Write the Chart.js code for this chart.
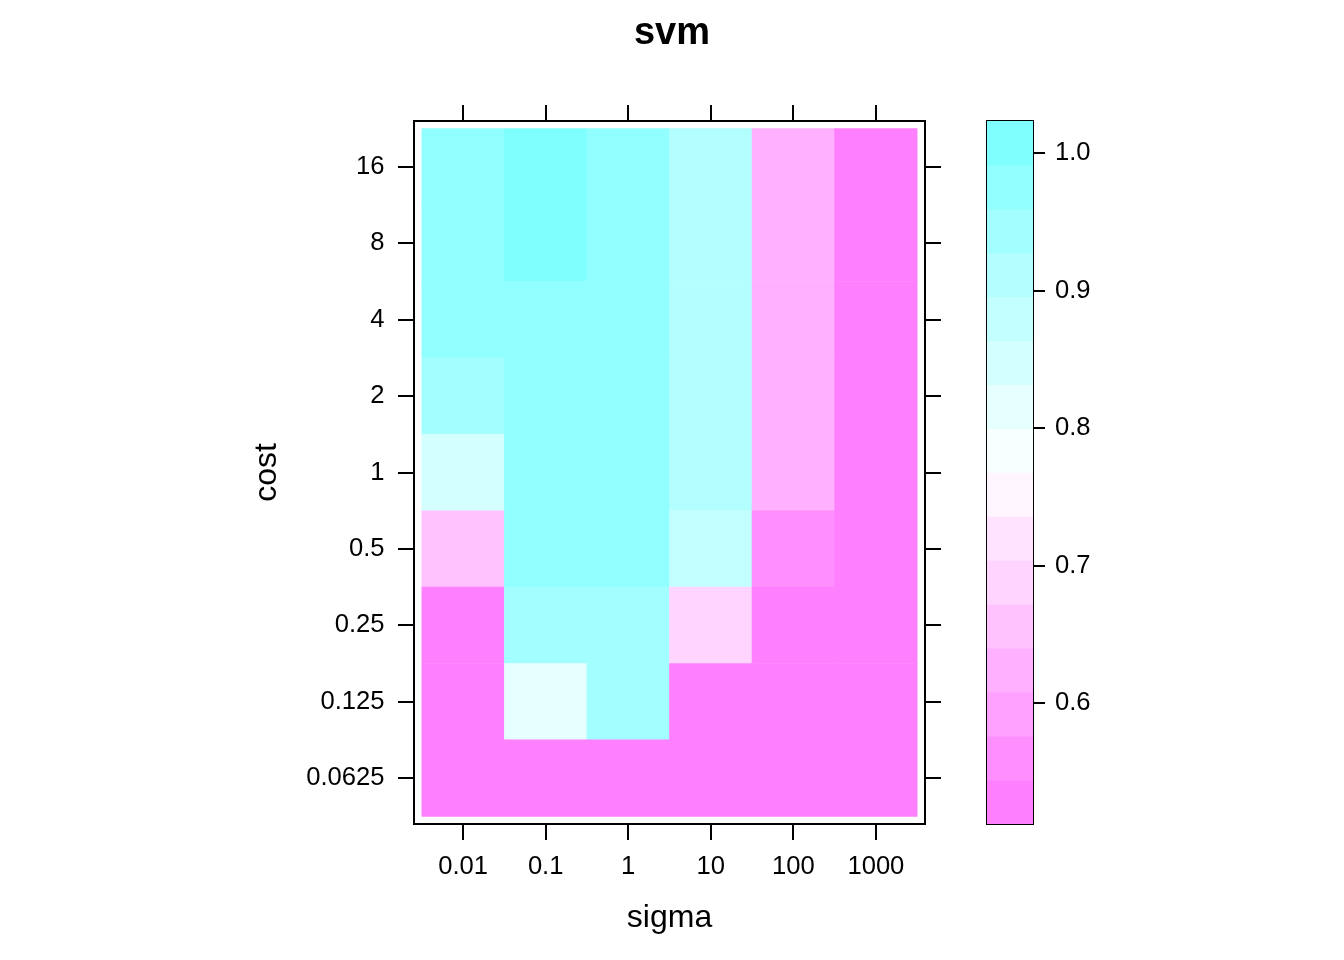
<!DOCTYPE html>
<html>
<head>
<meta charset="utf-8">
<script src="https://cdn.jsdelivr.net/npm/chart.js@4.4.1/dist/chart.umd.min.js"></script>
<style>
html,body{margin:0;padding:0;background:#ffffff;}
#wrap{position:relative;width:1344px;height:960px;overflow:hidden;}
#heat{position:absolute;left:0;top:0;}
#key{position:absolute;left:900px;top:0;}
</style>
</head>
<body>
<div id="wrap">
<canvas id="heat" width="1344" height="960"></canvas>
<canvas id="key" width="444" height="960"></canvas>
</div>
<script>
// ---- data ----
const sigmaLabels = ["0.01", "0.1", "1", "10", "100", "1000"];
const costLabels  = ["0.0625", "0.125", "0.25", "0.5", "1", "2", "4", "8", "16"];

// accuracy per cost value, one entry per sigma (same order as sigmaLabels)
const accCost0_0625 = [0.5434, 0.5434, 0.5434, 0.5434, 0.5434, 0.5434];
const accCost0_125  = [0.5434, 0.810, 0.940, 0.5434, 0.5434, 0.5434];
const accCost0_25   = [0.5434, 0.945, 0.945, 0.690, 0.5434, 0.5434];
const accCost0_5    = [0.655, 0.970, 0.975, 0.880, 0.560, 0.5434];
const accCost1      = [0.850, 0.975, 0.980, 0.910, 0.625, 0.5434];
const accCost2      = [0.945, 0.975, 0.980, 0.910, 0.625, 0.5434];
const accCost4      = [0.970, 0.975, 0.980, 0.910, 0.625, 0.5434];
const accCost8      = [0.975, 0.992, 0.980, 0.910, 0.625, 0.5434];
const accCost16     = [0.975, 0.992, 0.980, 0.910, 0.625, 0.5434];

const keyTickValues = [0.6, 0.7, 0.8, 0.9, 1.0];

// 16 level colours, low -> high
const levelColors = ["#FF80FF", "#FF8FFF", "#FFA1FF", "#FFB0FF", "#FFC2FF", "#FFD4FF", "#FFE3FF", "#FFF5FF",
                     "#F7FFFF", "#E6FFFF", "#D4FFFF", "#C4FFFF", "#B3FFFF", "#A3FFFF", "#91FFFF", "#80FFFF"];

// ---- derived ----
const rows = [accCost0_0625, accCost0_125, accCost0_25, accCost0_5, accCost1, accCost2, accCost4, accCost8, accCost16];
const allVals = rows.flat();
const zMin = Math.min(...allVals), zMax = Math.max(...allVals);
const ext = 0.07 * (zMax - zMin);
const lo = zMin - ext, hi = zMax + ext;
const nLev = levelColors.length;
const breaks = Array.from({length: nLev + 1}, (_, k) => lo + (hi - lo) * k / nLev);
function colorFor(v) {
  let k = Math.floor((v - lo) / (hi - lo) * nLev);
  k = Math.max(0, Math.min(nLev - 1, k));
  return levelColors[k];
}

Chart.defaults.font.family = "'Liberation Sans', Arial, Helvetica, sans-serif";
Chart.defaults.color = '#000000';

const FS = 25.6;
const tickGrid = (len, show) => ({
  display: show, offset: false, drawOnChartArea: false, drawTicks: true, tickLength: len,
  lineWidth: 2, tickWidth: 2, color: '#000000', tickColor: '#000000'
});
const border = {display: true, color: '#000000', width: 2};
const fixW = w => s => { s.width = w; };
const fixH = h => s => { s.height = h; };
const indexTicks = n => s => { s.ticks = Array.from({length: n}, (_, i) => ({value: i})); };

// ---- heat map ----
const heatDatasets = rows.map((row, r) => ({
  label: 'cost ' + costLabels[r],
  data: row.map((v, c) => ({x: c, y: [r - 0.5, r + 0.5]})),
  backgroundColor: row.map(colorFor),
  borderWidth: 0,
  grouped: false,
  barPercentage: 1,
  categoryPercentage: 1
}));

const titleTop = 10.5, titleSize = 38;
const titleH = titleTop + titleSize * 1.2;

new Chart(document.getElementById('heat'), {
  type: 'bar',
  data: {datasets: heatDatasets},
  options: {
    responsive: false, animation: false, devicePixelRatio: 1,
    layout: {padding: 0},
    plugins: {
      legend: {display: false}, tooltip: {enabled: false},
      title: {display: true, text: 'svm', color: '#000000',
              font: {size: titleSize, weight: 'bold'}, padding: {top: titleTop, bottom: 0}}
    },
    scales: {
      x: {
        type: 'linear', position: 'bottom', min: -0.595, max: 5.595, offset: false,
        afterBuildTicks: indexTicks(sigmaLabels.length), afterFit: fixH(960 - 824),
        grid: tickGrid(16, true), border: border,
        ticks: {font: {size: FS}, padding: 11.5, maxRotation: 0, autoSkip: false,
                callback: v => sigmaLabels[v]},
        title: {display: true, text: 'sigma', font: {size: 32}, padding: {top: 0, bottom: 22.5}}
      },
      x2: {
        type: 'linear', axis: 'x', position: 'top', min: -0.595, max: 5.595, offset: false,
        afterBuildTicks: indexTicks(sigmaLabels.length), afterFit: fixH(121 - titleH),
        grid: tickGrid(16, true), border: border,
        ticks: {display: false}
      },
      y: {
        type: 'linear', position: 'left', min: -0.6, max: 8.6,
        afterBuildTicks: indexTicks(costLabels.length), afterFit: fixW(414),
        grid: tickGrid(16, true), border: border,
        ticks: {font: {size: FS}, padding: 13.5, autoSkip: false,
                callback: v => costLabels[v]},
        title: {display: true, text: 'cost', font: {size: 32}, padding: {top: 248, bottom: 0}}
      },
      y2: {
        type: 'linear', axis: 'y', position: 'right', min: -0.6, max: 8.6,
        afterBuildTicks: indexTicks(costLabels.length), afterFit: fixW(1344 - 925),
        grid: tickGrid(16, true), border: border,
        ticks: {display: false}
      }
    }
  }
});

// ---- colour key ----
new Chart(document.getElementById('key'), {
  type: 'bar',
  data: {
    datasets: [{
      label: 'key',
      data: levelColors.map((c, k) => ({x: 0, y: [breaks[k], breaks[k + 1]]})),
      backgroundColor: levelColors,
      borderWidth: 0,
      grouped: false,
      barPercentage: 1,
      categoryPercentage: 1
    }]
  },
  options: {
    responsive: false, animation: false, devicePixelRatio: 1,
    layout: {padding: 0},
    plugins: {legend: {display: false}, tooltip: {enabled: false}, title: {display: false}},
    scales: {
      x: {
        type: 'linear', position: 'bottom', min: -0.5, max: 0.5, offset: false,
        afterBuildTicks: indexTicks(1), afterFit: fixH(960 - 824),
        grid: {display: false, offset: false, lineWidth: 2}, border: border, ticks: {display: false}
      },
      x2: {
        type: 'linear', axis: 'x', position: 'top', min: -0.5, max: 0.5, offset: false,
        afterBuildTicks: indexTicks(1), afterFit: fixH(121),
        grid: {display: false, offset: false, lineWidth: 2}, border: border, ticks: {display: false}
      },
      y2: {
        type: 'linear', axis: 'y', position: 'left', min: lo, max: hi,
        afterFit: fixW(987 - 900),
        grid: {display: false, lineWidth: 2}, border: border, ticks: {display: false}
      },
      y: {
        type: 'linear', position: 'right', min: lo, max: hi,
        afterBuildTicks: s => { s.ticks = keyTickValues.map(v => ({value: v})); },
        afterFit: fixW(444 - (1033 - 900)),
        grid: tickGrid(12, true), border: border,
        ticks: {font: {size: FS}, padding: 10, autoSkip: false, callback: v => v.toFixed(1)}
      }
    }
  }
});
</script>
</body>
</html>
